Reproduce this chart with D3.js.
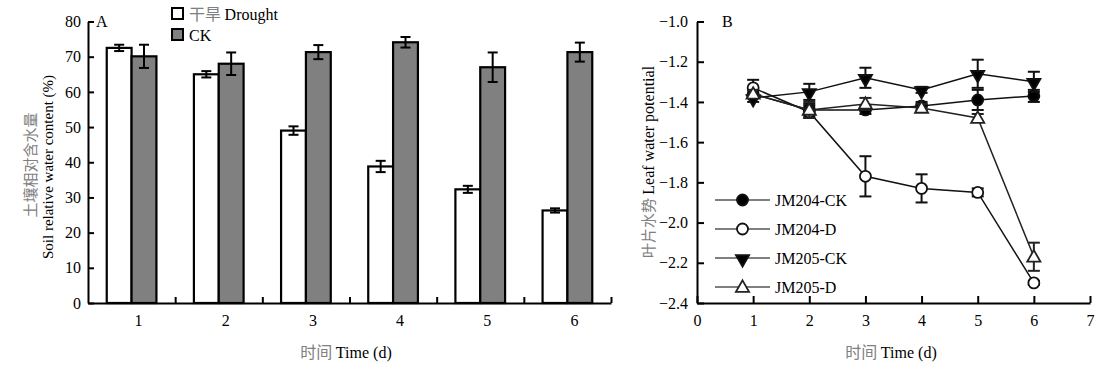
<!DOCTYPE html>
<html>
<head>
<meta charset="utf-8">
<script src="https://cdn.jsdelivr.net/npm/d3@7"></script>
<style>
  body { margin: 0; background: #fff; }
  svg text { font-family: "Liberation Serif", "DejaVu Serif", serif; }
  .cn { font-family: "Noto Sans CJK SC", sans-serif; fill: #808080; }
</style>
</head>
<body>
<svg id="chart" width="1100" height="374"></svg>
<script>
// panel A: soil relative water content
const days = ['1', '2', '3', '4', '5', '6'];
const droughtVals = [72.5, 65.0, 49.0, 38.8, 32.3, 26.3];
const droughtErr = [0.9, 0.9, 1.2, 1.6, 1.0, 0.6];
const ckVals = [70.1, 68.0, 71.3, 74.1, 67.0, 71.3];
const ckErr = [3.3, 3.2, 2.0, 1.5, 4.2, 2.7];
const soilTicks = [0, 10, 20, 30, 40, 50, 60, 70, 80];

// panel B: leaf water potential
const timeB = [1, 2, 3, 4, 5, 6];
const jm204ck = [-1.36, -1.44, -1.44, -1.42, -1.39, -1.37];
const jm204ckErr = [0.02, 0.03, 0.02, 0.02, 0.05, 0.03];
const jm204d = [-1.33, -1.45, -1.77, -1.83, -1.85, -2.30];
const jm204dErr = [0.04, 0.03, 0.10, 0.07, 0.02, 0.01];
const jm205ck = [-1.38, -1.35, -1.28, -1.34, -1.26, -1.30];
const jm205ckErr = [0.02, 0.04, 0.05, 0.015, 0.07, 0.05];
const jm205d = [-1.36, -1.44, -1.41, -1.43, -1.48, -2.17];
const jm205dErr = [0.02, 0.04, 0.03, 0.02, 0.02, 0.07];
const lwpTicks = [-2.4, -2.2, -2.0, -1.8, -1.6, -1.4, -1.2, -1.0];
const timeTicks = [0, 1, 2, 3, 4, 5, 6, 7];

const svg = d3.select('#chart');
const plotTop = 21.5, plotBottom = 303;
const fs = 16;

// ---------- panel A ----------
const a = { left: 88, right: 611 };
const xA = d3.scaleBand().domain(days).range([a.left, a.right]).paddingInner(0.43).paddingOuter(0.215);
const xIn = d3.scaleBand().domain(['D', 'CK']).range([0, xA.bandwidth()]);
const yA = d3.scaleLinear().domain([0, 80]).range([plotBottom, plotTop]);

const gA = svg.append('g');

const barData = days.map((d, i) => [
  { day: d, s: 'D', v: droughtVals[i], e: droughtErr[i] },
  { day: d, s: 'CK', v: ckVals[i], e: ckErr[i] }
]).flat();

gA.append('g').selectAll('rect')
  .data(barData)
  .join('rect')
  .attr('x', d => xA(d.day) + xIn(d.s))
  .attr('width', xIn.bandwidth())
  .attr('y', d => yA(d.v))
  .attr('height', d => yA(0) - yA(d.v))
  .attr('fill', d => d.s === 'D' ? '#fff' : '#808080')
  .attr('stroke', '#000')
  .attr('stroke-width', 2.2);

const errA = gA.append('g').attr('stroke', '#000').attr('stroke-width', 2);
errA.selectAll('g')
  .data(barData)
  .join('g')
  .attr('transform', d => `translate(${xA(d.day) + xIn(d.s) + xIn.bandwidth() / 2},0)`)
  .each(function (d) {
    const g = d3.select(this);
    g.append('line').attr('y1', yA(d.v + d.e)).attr('y2', yA(d.v - d.e));
    g.append('line').attr('x1', -5).attr('x2', 5).attr('y1', yA(d.v + d.e)).attr('y2', yA(d.v + d.e));
    g.append('line').attr('x1', -5).attr('x2', 5).attr('y1', yA(d.v - d.e)).attr('y2', yA(d.v - d.e));
  });

// axes A
gA.append('g')
  .attr('transform', `translate(${a.left},0)`)
  .call(d3.axisLeft(yA).tickValues(soilTicks).tickSize(-6).tickSizeOuter(0).tickPadding(7));

const xBound = d3.scaleLinear().domain([0.5, 6.5]).range([a.left, a.right]);
gA.append('g')
  .attr('transform', `translate(0,${plotBottom})`)
  .call(d3.axisBottom(xBound).tickValues([1.5, 2.5, 3.5, 4.5, 5.5, 6.5]).tickSize(-6).tickSizeOuter(0).tickFormat(''));
gA.append('g')
  .attr('transform', `translate(0,${plotBottom})`)
  .call(d3.axisBottom(xA).tickSize(0).tickPadding(12))
  .call(g => g.select('.domain').remove())
  .selectAll('text').attr('dx', 7);

// ---------- panel B ----------
const b = { left: 697, right: 1090 };
const xB = d3.scaleLinear().domain([0, 7]).range([b.left, b.right]);
const yB = d3.scaleLinear().domain([-2.4, -1.0]).range([plotBottom, plotTop]);
const gB = svg.append('g');

gB.append('g')
  .attr('transform', `translate(${b.left},0)`)
  .call(d3.axisLeft(yB).tickValues(lwpTicks).tickSize(-7).tickSizeOuter(0).tickPadding(9).tickFormat(d3.format('.1f')));
gB.append('g')
  .attr('transform', `translate(0,${plotBottom})`)
  .call(d3.axisBottom(xB).tickValues(timeTicks).tickSize(-7).tickSizeOuter(0).tickPadding(12).tickFormat(d3.format('d')));

const series = [
  { name: 'JM204-CK', vals: jm204ck, err: jm204ckErr, marker: 'circle', fill: '#000', color: '#111' },
  { name: 'JM204-D', vals: jm204d, err: jm204dErr, marker: 'circle', fill: '#fff', color: '#111' },
  { name: 'JM205-CK', vals: jm205ck, err: jm205ckErr, marker: 'down', fill: '#000', color: '#111' },
  { name: 'JM205-D', vals: jm205d, err: jm205dErr, marker: 'up', fill: '#fff', color: '#222' }
];

const triUp = d3.symbol().type(d3.symbolTriangle).size(75);
function drawMarker(g, s) {
  if (s.marker === 'circle') {
    g.append('circle').attr('r', 5.5);
  } else {
    g.append('path').attr('d', triUp())
      .attr('transform', s.marker === 'down' ? 'rotate(180) translate(0,-1)' : 'translate(0,1)');
  }
  g.selectAll('*').attr('fill', s.fill).attr('stroke', s.color).attr('stroke-width', 1.8);
}

const line = d3.line().x((d, i) => xB(timeB[i])).y(d => yB(d));

series.forEach(s => {
  const g = gB.append('g');
  g.append('path').datum(s.vals).attr('d', line)
    .attr('fill', 'none').attr('stroke', s.color).attr('stroke-width', 1.5);
  const eg = g.append('g').attr('stroke', s.color).attr('stroke-width', 2);
  s.vals.forEach((v, i) => {
    const x = xB(timeB[i]);
    const y1 = yB(v + s.err[i]), y2 = yB(v - s.err[i]);
    eg.append('line').attr('x1', x).attr('x2', x).attr('y1', y1).attr('y2', y2);
    eg.append('line').attr('x1', x - 6).attr('x2', x + 6).attr('y1', y1).attr('y2', y1);
    eg.append('line').attr('x1', x - 6).attr('x2', x + 6).attr('y1', y2).attr('y2', y2);
  });
  s.vals.forEach((v, i) => {
    const mg = g.append('g').attr('transform', `translate(${xB(timeB[i])},${yB(v)})`);
    drawMarker(mg, s);
  });
});

// legend B
const legB = gB.append('g').attr('transform', 'translate(715,200)');
series.forEach((s, i) => {
  const row = legB.append('g').attr('transform', `translate(0,${i * 29})`);
  row.append('line').attr('x1', 0).attr('x2', 55).attr('stroke', '#555').attr('stroke-width', 1.5);
  const mg = row.append('g').attr('transform', 'translate(27.5,0)');
  drawMarker(mg, s);
  row.append('text').attr('x', 60).attr('y', 5.5).attr('font-size', fs).text(s.name);
});

// axis styling
svg.selectAll('.domain, .tick line').attr('stroke', '#000').attr('stroke-width', 2);
svg.selectAll('.tick text').attr('font-size', fs).attr('fill', '#000')
  .style('font-family', '"Liberation Serif", serif');

// panel letters
svg.append('text').attr('x', 96).attr('y', 27).attr('font-size', fs).text('A');
svg.append('text').attr('x', 722).attr('y', 27).attr('font-size', fs).text('B');

// legend A
const legA = svg.append('g').attr('transform', 'translate(172,8)');
[{ label: 'Drought', cn: '干旱 ', fill: '#fff' }, { label: 'CK', cn: '', fill: '#808080' }].forEach((d, i) => {
  const row = legA.append('g').attr('transform', `translate(0,${i * 21})`);
  row.append('rect').attr('width', 11).attr('height', 11).attr('fill', d.fill)
    .attr('stroke', '#000').attr('stroke-width', 2);
  const t = row.append('text').attr('x', 17).attr('y', 11.5).attr('font-size', fs);
  if (d.cn) t.append('tspan').attr('class', 'cn').text(d.cn);
  t.append('tspan').text(d.label);
});

// axis titles
svg.append('text').attr('transform', 'translate(36,165) rotate(-90)')
  .attr('text-anchor', 'middle').attr('font-size', 15).attr('class', 'cn').text('土壤相对含水量');
svg.append('text').attr('transform', 'translate(53,167) rotate(-90)')
  .attr('text-anchor', 'middle').attr('font-size', 15).text('Soil relative water content (%)');

svg.append('text').attr('transform', 'translate(654,162) rotate(-90)')
  .attr('text-anchor', 'middle').attr('font-size', fs)
  .call(t => {
    t.append('tspan').attr('class', 'cn').attr('font-size', 15).text('叶片水势 ');
    t.append('tspan').text('Leaf water potential');
  });

[346, 891].forEach(cx => {
  const t = svg.append('text').attr('x', cx).attr('y', 358)
    .attr('text-anchor', 'middle').attr('font-size', fs);
  t.append('tspan').attr('class', 'cn').text('时间 ');
  t.append('tspan').text('Time (d)');
});
</script>
</body>
</html>
